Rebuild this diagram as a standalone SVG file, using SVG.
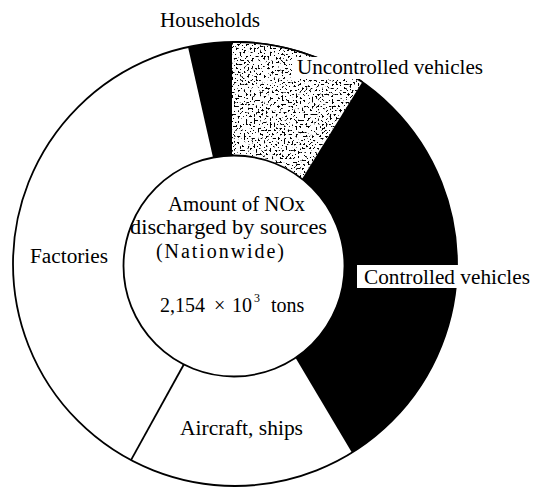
<svg xmlns="http://www.w3.org/2000/svg" width="533" height="488" viewBox="0 0 533 488">
<style>
  text { font-family: "Liberation Serif", "Times New Roman", serif; font-size: 20px; fill: #000; }
  .ring { fill: #fff; stroke: #000; stroke-width: 1.8; }
  .black { fill: #000; }
  .div { stroke: #000; stroke-width: 1.8; fill: none; }
  .bg { fill: #fff; }
</style>
<defs>
  <filter id="speckle" x="0" y="0" width="1" height="1" color-interpolation-filters="sRGB">
    <feTurbulence type="fractalNoise" baseFrequency="0.5" numOctaves="3" seed="11" result="t"/>
    <feColorMatrix in="t" type="matrix" values="0 0 0 0 0  0 0 0 0 0  0 0 0 0 0  16 0 0 0 -9.4" result="dots"/>
    <feFlood flood-color="#fff" result="w"/>
    <feMerge result="m"><feMergeNode in="w"/><feMergeNode in="dots"/></feMerge>
    <feComposite in="m" in2="SourceAlpha" operator="in"/>
  </filter>
</defs>

<g id="ring-outline">
  <circle class="ring" cx="235" cy="264" r="222"/>
</g>

<g id="factories">
  <text x="30" y="263" textLength="78" lengthAdjust="spacingAndGlyphs">Factories</text>
</g>

<g id="households">
  <path class="black" d="M213,157.5 L188,47 A222,222 0 0 1 232,42 L232,155.5 Z"/>
  <text x="160" y="27" textLength="100" lengthAdjust="spacingAndGlyphs">Households</text>
</g>

<g id="uncontrolled-vehicles">
  <path fill="#888" filter="url(#speckle)" d="M232,155.5 L232,42 A222,222 0 0 1 362.3,82.1 L302,178.9 Z"/>
  <path class="div" d="M232,42 A222,222 0 0 1 362.3,82.1"/>
  <rect class="bg" x="292" y="57" width="196" height="22"/>
  <text x="297" y="74" textLength="186" lengthAdjust="spacingAndGlyphs">Uncontrolled vehicles</text>
</g>

<g id="controlled-vehicles">
  <path class="black" d="M302,178.9 L362.3,82.1 A222,222 0 0 1 352,452.7 L295.5,357.8 Z"/>
  <rect class="bg" x="357" y="265" width="176" height="23"/>
  <text x="364" y="284" textLength="166" lengthAdjust="spacingAndGlyphs">Controlled vehicles</text>
</g>

<g id="aircraft-ships">
  <text x="180" y="435" textLength="123" lengthAdjust="spacingAndGlyphs">Aircraft, ships</text>
</g>

<g id="connectors">
  <line class="div" x1="183.8" y1="364.5" x2="131" y2="460.1"/>
</g>

<g id="center">
  <circle class="ring" cx="234" cy="266" r="110.5"/>
  <text x="168" y="211" textLength="137" lengthAdjust="spacingAndGlyphs">Amount of NOx</text>
  <text x="130" y="234" textLength="197" lengthAdjust="spacingAndGlyphs">discharged by sources</text>
  <text x="156" y="258" font-size="21" textLength="128" lengthAdjust="spacing">(Nationwide)</text>
  <text y="312" font-size="21"><tspan x="160">2,154</tspan><tspan x="214">×</tspan><tspan x="232">10</tspan><tspan x="254" y="302" font-size="12">3</tspan><tspan x="271" y="312">tons</tspan></text>
</g>
</svg>
